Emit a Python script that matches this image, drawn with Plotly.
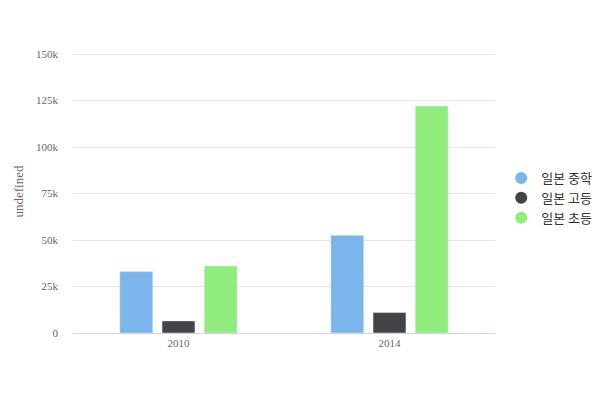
import plotly.graph_objects as go

categories = ["2010", "2014"]
series_names = ["일본 중학교", "일본 고등학교", "일본 초등학교"]
middle_school = [33000, 52500]
high_school = [6500, 11000]
elementary = [36000, 122000]
series_values = [middle_school, high_school, elementary]
colors = ["#7cb5ec", "#434348", "#90ed7d"]
tick_vals = [0, 25000, 50000, 75000, 100000, 125000, 150000]
tick_text = ["0", "25k", "50k", "75k", "100k", "125k", "150k"]

fig = go.Figure()
for name, vals, c in zip(series_names, series_values, colors):
    fig.add_trace(go.Bar(x=categories, y=vals, name=name, marker_color=c,
                         showlegend=False, hoverinfo="y"))
for name, c in zip(series_names, colors):
    fig.add_trace(go.Scatter(x=[None], y=[None], mode="markers", name=name,
                             marker=dict(symbol="circle", size=12, color=c)))

fig.update_layout(
    width=600, height=400,
    margin=dict(l=65, r=113, t=42, b=75, autoexpand=False),
    paper_bgcolor="white", plot_bgcolor="white",
    barmode="group", bargap=0.4, bargroupgap=0.22,
    legend=dict(xref="container", yref="container", x=0.822, y=0.525,
                xanchor="left", yanchor="middle",
                font=dict(family="Noto Sans CJK KR, sans-serif", size=13, color="#333333"),
                itemsizing="constant", tracegroupgap=0, itemwidth=30),
    xaxis=dict(type="category", showgrid=False, showline=True, linecolor="#ccd6eb",
               linewidth=1, ticks="", tickfont=dict(family="Liberation Serif", size=11, color="#666666"),
               fixedrange=True),
    yaxis=dict(range=[0, 152150], tickvals=tick_vals, ticktext=tick_text,
               showgrid=True, gridcolor="#e6e6e6", gridwidth=1, zeroline=False, showline=False,
               ticks="", ticklabelstandoff=14,
               tickfont=dict(family="Liberation Serif", size=11, color="#666666"),
               title=dict(text="undefined", standoff=9,
                          font=dict(family="Liberation Serif", size=13, color="#666666"))),
)
fig.write_html("out.html")
